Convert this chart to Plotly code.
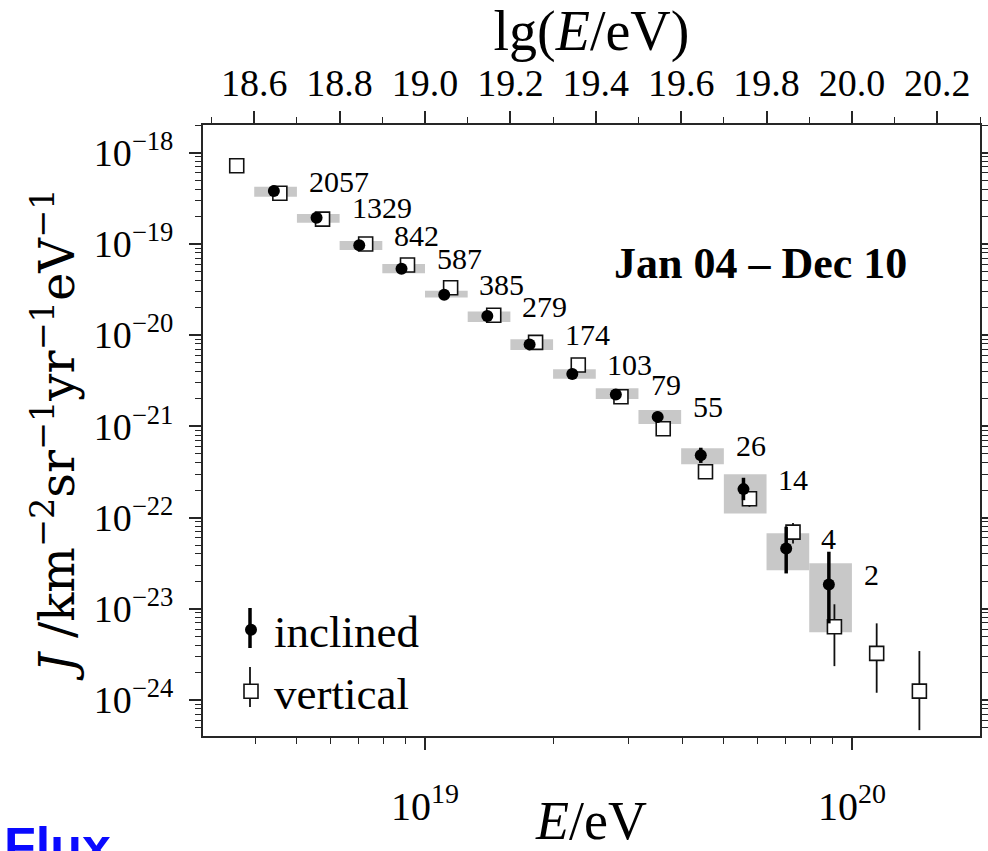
import plotly.graph_objects as go
import numpy as np

# ---------------- data ----------------
# inclined events
lgE_incl = [18.646, 18.746, 18.846, 18.945, 19.045, 19.146, 19.245,
            19.345, 19.447, 19.545, 19.646, 19.746, 19.846, 19.946]
J_incl = [3.80e-19, 1.94e-19, 9.66e-20, 5.35e-20, 2.77e-20, 1.62e-20, 7.92e-21,
          3.74e-21, 2.24e-21, 1.27e-21, 4.81e-22, 2.05e-22, 4.59e-23, 1.85e-23]
J_incl_hi = [3.88e-19, 1.99e-19, 9.99e-20, 5.57e-20, 2.90e-20, 1.72e-20, 8.55e-21,
             4.12e-21, 2.53e-21, 1.45e-21, 5.83e-22, 2.73e-22, 7.93e-23, 4.22e-23]
J_incl_lo = [3.72e-19, 1.89e-19, 9.33e-20, 5.13e-20, 2.63e-20, 1.52e-20, 7.30e-21,
             3.38e-21, 1.97e-21, 1.10e-21, 3.97e-22, 1.55e-22, 2.44e-23, 6.92e-24]
N_incl = [2057, 1329, 842, 587, 385, 279, 174, 103, 79, 55, 26, 14, 4, 2]

# systematic-uncertainty boxes of the inclined spectrum
bin_lo = [18.6, 18.7, 18.8, 18.9, 19.0, 19.1, 19.2, 19.3, 19.4, 19.5, 19.6, 19.7, 19.8, 19.9]
bin_hi = [18.7, 18.8, 18.9, 19.0, 19.1, 19.2, 19.3, 19.4, 19.5, 19.6, 19.7, 19.8, 19.9, 20.0]
sys_hi = [4.24e-19, 2.13e-19, 1.08e-19, 6.03e-20, 3.07e-20, 1.82e-20, 8.99e-21,
          4.22e-21, 2.61e-21, 1.51e-21, 5.74e-22, 2.98e-22, 6.71e-23, 3.15e-23]
sys_lo = [3.30e-19, 1.71e-19, 8.57e-20, 4.76e-20, 2.59e-20, 1.39e-20, 6.87e-21,
          3.33e-21, 1.99e-21, 1.06e-21, 3.83e-22, 1.11e-22, 2.65e-23, 5.51e-24]

# vertical events
lgE_vert = [18.559, 18.660, 18.760, 18.861, 18.959, 19.060, 19.161, 19.259, 19.359,
            19.459, 19.558, 19.657, 19.760, 19.862, 19.959, 20.058, 20.158]
J_vert = [7.19e-19, 3.59e-19, 1.87e-19, 1.00e-19, 5.87e-20, 3.31e-20, 1.65e-20, 8.34e-21,
          4.70e-21, 2.11e-21, 9.42e-22, 3.18e-22, 1.61e-22, 6.93e-23, 6.35e-24, 3.24e-24, 1.25e-24]
J_vert_hi = [7.40e-19, 3.65e-19, 1.91e-19, 1.03e-19, 6.06e-20, 3.44e-20, 1.73e-20, 8.84e-21,
             5.03e-21, 2.29e-21, 1.05e-21, 3.65e-22, 1.92e-22, 8.70e-23, 1.12e-23, 6.92e-24, 3.44e-24]
J_vert_lo = [7.00e-19, 3.53e-19, 1.83e-19, 0.97e-19, 5.68e-20, 3.18e-20, 1.57e-20, 7.85e-21,
             4.37e-21, 1.93e-21, 8.35e-22, 2.72e-22, 1.31e-22, 5.20e-23, 2.35e-24, 1.20e-24, 4.67e-25]

top_ticks = [18.6, 18.8, 19.0, 19.2, 19.4, 19.6, 19.8, 20.0, 20.2]
top_ticktext = ["18.6", "18.8", "19.0", "19.2", "19.4", "19.6", "19.8", "20.0", "20.2"]
y_exps = [-18, -19, -20, -21, -22, -23, -24]
x_exps = [19, 20]

# ---------------- figure ----------------
W, H = 988, 851
ML, MR, MT, MB = 203, 8, 125, 115
LG_RANGE = [18.48, 20.30]
Y_RANGE = [-24.395, -17.696]

serif = "Liberation Serif"
frame = "#262626"

E_incl = [10.0 ** v for v in lgE_incl]
E_vert = [10.0 ** v for v in lgE_vert]

fig = go.Figure()

# grey systematic boxes
for i in range(len(bin_lo)):
    x0, x1 = 10.0 ** bin_lo[i], 10.0 ** bin_hi[i]
    fig.add_trace(go.Scatter(
        x=[x0, x1, x1, x0, x0],
        y=[sys_lo[i], sys_lo[i], sys_hi[i], sys_hi[i], sys_lo[i]],
        mode="lines", fill="toself", fillcolor="#c8c8c8",
        line=dict(width=0, color="#c8c8c8"),
        showlegend=False, hoverinfo="skip"))

# vertical
fig.add_trace(go.Scatter(
    x=E_vert, y=J_vert, mode="markers", name="vertical", legendrank=2,
    marker=dict(symbol="square", size=14, color="white",
                line=dict(color="#111", width=1.6)),
    error_y=dict(type="data", symmetric=False,
                 array=[h - v for h, v in zip(J_vert_hi, J_vert)],
                 arrayminus=[v - l for l, v in zip(J_vert_lo, J_vert)],
                 color="#111", thickness=1.8, width=0)))

# inclined
fig.add_trace(go.Scatter(
    x=E_incl, y=J_incl, mode="markers", name="inclined", legendrank=1,
    marker=dict(symbol="circle", size=12, color="black", line=dict(width=0)),
    error_y=dict(type="data", symmetric=False,
                 array=[h - v for h, v in zip(J_incl_hi, J_incl)],
                 arrayminus=[v - l for l, v in zip(J_incl_lo, J_incl)],
                 color="black", thickness=3.5, width=0)))

# dummy trace for the top (lg E) axis
fig.add_trace(go.Scatter(x=[19.0], y=[1e-20], xaxis="x2", yaxis="y", mode="markers",
                         marker=dict(opacity=0), showlegend=False, hoverinfo="skip"))

# event-count labels
for e, j, n in zip(E_incl, J_incl, N_incl):
    fig.add_annotation(x=float(np.log10(e)), y=float(np.log10(j)), xref="x", yref="y",
                       text=str(n), showarrow=False, xanchor="left", yanchor="middle",
                       xshift=33, yshift=10,
                       font=dict(family=serif, size=30, color="black"))

pw, ph = W - ML - MR, H - MT - MB
def px(x):
    return (x - ML) / pw
def py(y):
    return (H - MB - y) / ph

# period label
fig.add_annotation(x=px(760), y=py(263), xref="paper", yref="paper",
                   text="<b>Jan 04 – Dec 10</b>",
                   showarrow=False, xanchor="center", yanchor="middle",
                   font=dict(family=serif, size=44, color="black"))

# "Flux" heading, cut off at the page bottom
fig.add_annotation(x=px(2), y=py(815), xref="paper", yref="paper", text="<b>Flux</b>",
                   showarrow=False, xanchor="left", yanchor="top",
                   font=dict(family="Liberation Sans", size=52, color="#0a0aff"))

# legend error-bar glyphs
fig.add_shape(type="line", xref="paper", yref="paper", x0=px(250), x1=px(250),
              y0=py(608), y1=py(648), line=dict(color="black", width=3.5), layer="above")
fig.add_shape(type="line", xref="paper", yref="paper", x0=px(250), x1=px(250),
              y0=py(667), y1=py(707), line=dict(color="#111", width=1.8), layer="above")

minor_x = [float(m) * 10.0 ** k for k in (18, 19) for m in range(2, 10)] + [2e20]
minor_y = [float(m) * 10.0 ** k for k in range(-25, -17) for m in range(2, 10)]

fig.update_layout(
    width=W, height=H,
    margin=dict(l=ML, r=MR, t=MT, b=MB, autoexpand=False),
    paper_bgcolor="white", plot_bgcolor="white",
    font=dict(family=serif, color="black"),
    showlegend=True,
    legend=dict(x=px(228), y=py(594), xanchor="left", yanchor="top",
                bgcolor="rgba(0,0,0,0)", font=dict(family=serif, size=45),
                itemwidth=36, tracegroupgap=0),
    xaxis=dict(type="log", range=LG_RANGE, showgrid=False, zeroline=False,
               showline=True, linecolor=frame, linewidth=2, mirror=False,
               ticks="outside", ticklen=12, tickwidth=1.5, tickcolor=frame,
               tickvals=[10.0 ** k for k in x_exps],
               ticktext=[f"10<sup>{k}</sup>" for k in x_exps],
               tickfont=dict(family=serif, size=40), ticklabelstandoff=22,
               minor=dict(tickvals=minor_x, ticks="outside", ticklen=6,
                          tickwidth=1.2, tickcolor=frame, showgrid=False),
               title=dict(text="<i>E</i>/eV", font=dict(family=serif, size=54), standoff=0)),
    xaxis2=dict(overlaying="x", side="top", range=LG_RANGE, showgrid=False, zeroline=False,
                showline=True, linecolor=frame, linewidth=2,
                ticks="outside", ticklen=12, tickwidth=1.5, tickcolor=frame,
                tickvals=top_ticks, ticktext=top_ticktext,
                tickfont=dict(family=serif, size=38),
                minor=dict(dtick=0.1, ticks="outside", ticklen=6, tickwidth=1.2,
                           tickcolor=frame, showgrid=False),
                title=dict(text="lg(<i>E</i>/eV)", font=dict(family=serif, size=56), standoff=0)),
    yaxis=dict(type="log", range=Y_RANGE, showgrid=False, zeroline=False,
               showline=True, linecolor=frame, linewidth=2, mirror="ticks",
               ticks="outside", ticklen=12, tickwidth=1.5, tickcolor=frame,
               tickvals=[10.0 ** k for k in y_exps],
               ticktext=[f"10<sup>−{-k}</sup>" for k in y_exps],
               tickfont=dict(family=serif, size=38), ticklabelstandoff=8,
               minor=dict(tickvals=minor_y, ticks="outside", ticklen=6,
                          tickwidth=1.2, tickcolor=frame, showgrid=False),
               title=dict(text="<i>J</i> /km<sup>−2</sup>sr<sup>−1</sup>yr<sup>−1</sup>eV<sup>−1</sup>",
                          font=dict(family="DejaVu Serif", size=48), standoff=4)),
)

fig.write_html("out.html")
